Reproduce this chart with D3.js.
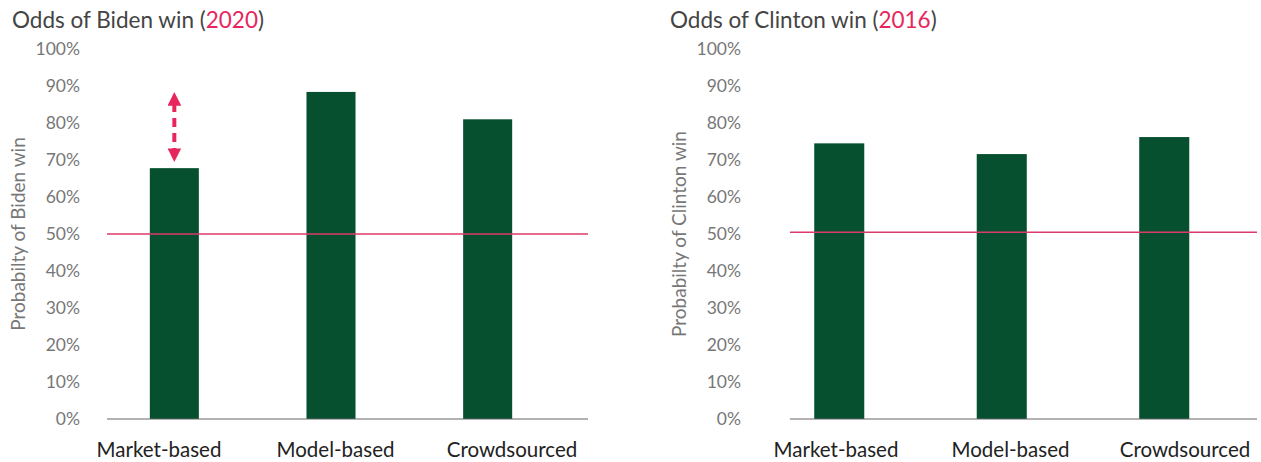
<!DOCTYPE html>
<html>
<head>
<meta charset="utf-8">
<script src="https://cdn.jsdelivr.net/npm/d3@7"></script>
<style>
  body { margin: 0; background: #fff; }
  svg { display: block; font-family: Lato, "Open Sans", sans-serif; }
</style>
</head>
<body>
<div id="container"></div>
<script>
const categories = ["Market-based", "Model-based", "Crowdsourced"];
const bidenOdds = [67.8, 88.4, 81.0];
const clintonOdds = [74.5, 71.6, 76.2];
const yTicks = [0, 10, 20, 30, 40, 50, 60, 70, 80, 90, 100];
const bidenRef = 50;
const clintonRef = 50.5;

const width = 1261, height = 462;
const svg = d3.select("#container").append("svg")
    .attr("width", width).attr("height", height);

const red = "#e8265e";
const green = "#06502f";

const defs = svg.append("defs");
defs.append("marker")
    .attr("id", "head")
    .attr("viewBox", "0 0 10 10")
    .attr("refX", 2).attr("refY", 5)
    .attr("markerWidth", 3.4).attr("markerHeight", 3.4)
    .attr("orient", "auto-start-reverse")
    .append("path")
    .attr("d", "M0,0 L10,5 L0,10 Z")
    .attr("fill", red);

// one panel = one chart
function panel(o) {
    const g = svg.append("g");
    const y = d3.scaleLinear().domain([0, 100]).range([419, 49]);
    const x = d3.scaleBand().domain(categories).range(o.band)
        .paddingInner(o.pad).paddingOuter(o.pad / 2);
    const xl = d3.scalePoint().domain(categories).range(o.labels);

    // title
    const t = g.append("text")
        .attr("x", o.titleX).attr("y", 28)
        .style("font-size", "22.5px").style("fill", "#444");
    t.append("tspan").text(o.title + " (");
    t.append("tspan").style("fill", red).text(o.year);
    t.append("tspan").text(")");

    // y ticks
    const yAxis = d3.axisLeft(y).tickValues(yTicks).tickFormat(d => d + "%").tickSize(0).tickPadding(0);
    const ya = g.append("g").attr("transform", `translate(${o.tickX},0)`).call(yAxis);
    ya.select(".domain").remove();
    ya.selectAll("text").style("font-size", "17.5px").style("fill", "#777")
        .style("font-family", "Lato, 'Open Sans', sans-serif");

    g.append("text")
        .attr("transform", `translate(${o.titleYX},${y(50)}) rotate(-90)`)
        .attr("text-anchor", "middle")
        .attr("dy", "0.35em")
        .style("font-size", "19px").style("fill", "#777")
        .text(o.ytitle);

    // bars
    g.selectAll("rect.bar").data(o.values).enter().append("rect")
        .attr("class", "bar")
        .attr("x", (d, i) => x(categories[i]))
        .attr("width", x.bandwidth())
        .attr("y", d => y(d))
        .attr("height", d => y(0) - y(d))
        .attr("fill", green);

    // baseline
    g.append("line")
        .attr("x1", o.axis[0]).attr("x2", o.axis[1])
        .attr("y1", y(0)).attr("y2", y(0))
        .attr("stroke", "#666").attr("stroke-width", 1.2);

    // 50% line
    g.append("line")
        .attr("x1", o.axis[0]).attr("x2", o.axis[1])
        .attr("y1", y(o.ref)).attr("y2", y(o.ref))
        .attr("stroke", "#dc3a6a").attr("stroke-width", 1.5);

    // category labels
    g.selectAll("text.cat").data(categories).enter().append("text")
        .attr("class", "cat")
        .attr("x", d => xl(d)).attr("y", 457)
        .attr("text-anchor", "middle")
        .style("font-size", "20.5px").style("fill", "#222")
        .text(d => d);

    return {x, y, g};
}

const left = panel({
    title: "Odds of Biden win", year: "2020", titleX: 12,
    values: bidenOdds, ref: bidenRef,
    band: [96, 566], pad: 0.687, labels: [159, 512],
    axis: [107, 588], tickX: 80, titleYX: 18,
    ytitle: "Probabilty of Biden win"
});

panel({
    title: "Odds of Clinton win", year: "2016", titleX: 670,
    values: clintonOdds, ref: clintonRef,
    band: [758, 1245.5], pad: 0.692, labels: [836, 1185],
    axis: [790, 1257], tickX: 741, titleYX: 679,
    ytitle: "Probabilty of Clinton win"
});

// gap arrow between market-based and model-based odds
const ax = left.x(categories[0]) + left.x.bandwidth() / 2;
left.g.append("line")
    .attr("x1", ax).attr("x2", ax)
    .attr("y1", left.y(bidenOdds[1]) + 11)
    .attr("y2", left.y(bidenOdds[0]) - 17)
    .attr("stroke", red).attr("stroke-width", 4)
    .attr("stroke-dasharray", "9,6")
    .attr("marker-start", "url(#head)")
    .attr("marker-end", "url(#head)");
</script>
</body>
</html>
